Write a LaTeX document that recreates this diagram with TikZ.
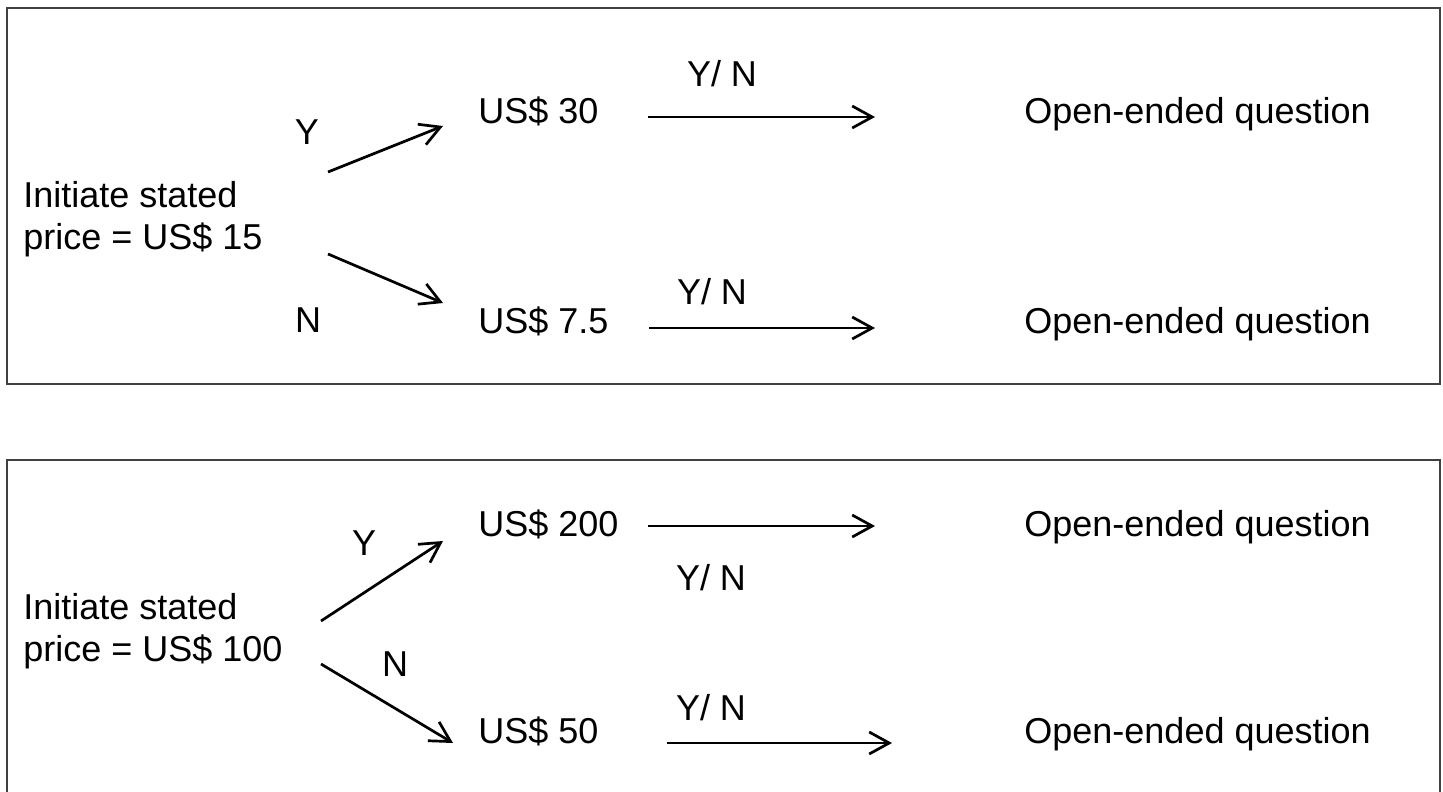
\documentclass[tikz,border=0pt]{standalone}
\usepackage{fontspec}
\setmainfont{Liberation Sans}
\usetikzlibrary{arrows.meta}
\begin{document}
\begin{tikzpicture}[x=0.5pt,y=-0.5pt,
  lbl/.style={inner sep=0pt,font=\fontsize{18}{21}\selectfont},
  lw/.style={lbl,anchor=base west},
  lc/.style={lbl,anchor=base},
  frame/.style={draw=black!75,line width=0.8pt},
  conn/.style={line width=1.35pt,-{Straight Barb[length=10pt,width=11pt,line width=1.35pt]}}]
\useasboundingbox (0,0) rectangle (1443,791);
% top panel
\draw[frame] (7,8) rectangle (1440,384);
\node[lbl,anchor=north west,align=left] (initA) at (23,181) {Initiate stated\\price = US\$ 15};
\node[lc] (yA) at (307,145) {Y};
\node[lc] (nA) at (308,332) {N};
\node[lw] (p30) at (478,124) {US\$ 30};
\node[lw] (p75) at (478,333) {US\$ 7.5};
\node[lc] (ynA1) at (722,87) {Y/ N};
\node[lc] (ynA2) at (712,304) {Y/ N};
\node[lw] (oA1) at (1024,124) {Open-ended question};
\node[lw] (oA2) at (1024,333) {Open-ended question};
\coordinate (sA1) at (328,172); \coordinate (eA1) at (443,126);
\coordinate (sA2) at (328,254); \coordinate (eA2) at (443,303);
\coordinate (sA3) at (648,117); \coordinate (eA3) at (875,117);
\coordinate (sA4) at (649,328); \coordinate (eA4) at (875,328);
\draw[conn] (sA1) -- (eA1);
\draw[conn] (sA2) -- (eA2);
\draw[conn] (sA3) -- (eA3);
\draw[conn] (sA4) -- (eA4);
% bottom panel
\draw[frame] (7,795) -- (7,460) -- (1440,460) -- (1440,795);
\node[lbl,anchor=north west,align=left] (initB) at (23,593) {Initiate stated\\price = US\$ 100};
\node[lc] (yB) at (364,555) {Y};
\node[lc] (nB) at (395,676) {N};
\node[lw] (p200) at (478,536) {US\$ 200};
\node[lw] (p50) at (478,743) {US\$ 50};
\node[lc] (ynB1) at (711,590) {Y/ N};
\node[lc] (ynB2) at (711,720) {Y/ N};
\node[lw] (oB1) at (1024,536) {Open-ended question};
\node[lw] (oB2) at (1024,743) {Open-ended question};
\coordinate (sB1) at (321,621); \coordinate (eB1) at (443,541);
\coordinate (sB2) at (321,664); \coordinate (eB2) at (453,743);
\coordinate (sB3) at (648,526); \coordinate (eB3) at (875,526);
\coordinate (sB4) at (667,743); \coordinate (eB4) at (892,743);
\draw[conn] (sB1) -- (eB1);
\draw[conn] (sB2) -- (eB2);
\draw[conn] (sB3) -- (eB3);
\draw[conn] (sB4) -- (eB4);
\end{tikzpicture}
\end{document}
